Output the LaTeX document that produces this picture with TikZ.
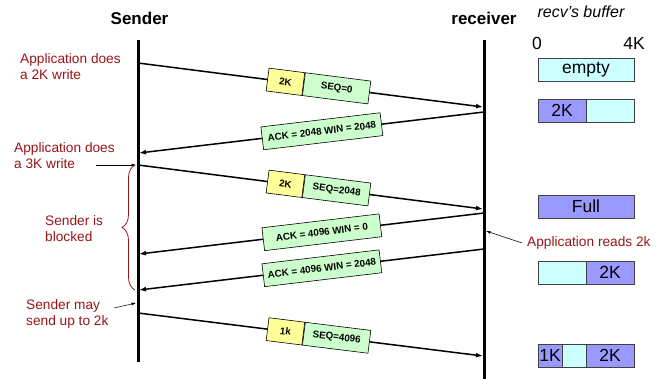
\documentclass[tikz,border=0pt]{standalone}
\usepackage{fontspec}
\setmainfont{Liberation Sans}
\usetikzlibrary{
    arrows.meta,
    decorations.pathreplacing, % for the brace
    positioning
}

\definecolor{lenyellow}{RGB}{255,255,153}
\definecolor{hdrgreen}{RGB}{204,255,204}
\definecolor{freecyan}{RGB}{204,255,255}
\definecolor{usedblue}{RGB}{153,153,255}
\definecolor{notered}{RGB}{153,20,24}

\newcommand{\headfont}{\fontsize{17}{20}\selectfont\bfseries}
\newcommand{\pktfont}{\fontsize{9.8}{12}\selectfont\bfseries}
\newcommand{\notefont}{\fontsize{13.7}{16.7}\selectfont}
\newcommand{\buffont}{\fontsize{17.5}{20}\selectfont}

\begin{document}
\begin{tikzpicture}[x=1pt, y=-1pt,
    life/.style={line width=3pt},
    msg/.style={line width=1.5pt, -{Latex[length=7pt,width=5pt]}},
    pointer/.style={line width=0.5pt, -{Latex[length=4.5pt,width=3pt]}},
    pkt/.style={draw, line width=0.6pt, font=\pktfont, minimum height=23pt, inner sep=1pt},
    note/.style={text=notered, font=\notefont, align=left, inner sep=0pt},
    buf/.style={draw=black!75, line width=0.8pt, font=\buffont, minimum height=23pt,
                inner sep=0pt, outer sep=0pt, anchor=north west}]
    \useasboundingbox (0,0) rectangle (667,379);

    % the two hosts
    \node[font=\headfont, anchor=base] (sender) at (139.5,25) {Sender};
    \node[font=\headfont, anchor=base] (receiver) at (484,25) {receiver};
    \coordinate (s top) at (138,40);
    \coordinate (s bot) at (138,362);
    \coordinate (r top) at (484,40);
    \coordinate (r bot) at (484,379);
    \draw[life] (s top) -- (s bot);
    \draw[life] (r top) -- (r bot);

    % segments and acks
    \coordinate (m1a) at (138,63);  \coordinate (m1b) at (483,107);
    \coordinate (a1a) at (484,112); \coordinate (a1b) at (139,153);
    \coordinate (m2a) at (138,165); \coordinate (m2b) at (483,209);
    \coordinate (a2a) at (484,213); \coordinate (a2b) at (139,254);
    \coordinate (a3a) at (484,249); \coordinate (a3b) at (139,290);
    \coordinate (m3a) at (138,313); \coordinate (m3b) at (483,356);

    \draw[msg] (m1a) -- (m1b)
        node[pkt, fill=lenyellow, minimum width=36pt, sloped, pos=0.48, anchor=east] (len1) {2K}
        node[pkt, fill=hdrgreen, minimum width=66pt, sloped, pos=0.48, anchor=west] (seq1) {SEQ=0};
    \draw[msg] (a1a) -- (a1b)
        node[pkt, fill=hdrgreen, minimum width=120pt, sloped, pos=0.47] (ack1) {ACK = 2048 WIN = 2048};
    \draw[msg] (m2a) -- (m2b)
        node[pkt, fill=lenyellow, minimum width=36pt, sloped, pos=0.48, anchor=east] (len2) {2K}
        node[pkt, fill=hdrgreen, minimum width=66pt, sloped, pos=0.48, anchor=west] (seq2) {SEQ=2048};
    \draw[msg] (a2a) -- (a2b)
        node[pkt, fill=hdrgreen, minimum width=118pt, sloped, pos=0.47] (ack2) {ACK = 4096 WIN = 0};
    \draw[msg] (a3a) -- (a3b)
        node[pkt, fill=hdrgreen, minimum width=118pt, sloped, pos=0.47] (ack3) {ACK = 4096 WIN = 2048};
    \draw[msg] (m3a) -- (m3b)
        node[pkt, fill=lenyellow, minimum width=36pt, sloped, pos=0.48, anchor=east] (len3) {1k}
        node[pkt, fill=hdrgreen, minimum width=66pt, sloped, pos=0.48, anchor=west] (seq3) {SEQ=4096};

    % what the applications do (base = last line)
    \node[note, anchor=base west] (write2k) at (20,80) {Application does\\a 2K write};
    \node[note, anchor=base west] (write3k) at (14,169) {Application does\\a 3K write};
    \node[note, anchor=base west] (blocked) at (45,242) {Sender is\\blocked};
    \node[note, anchor=base west] (maysend) at (26,326) {Sender may\\send up to 2k};
    \node[note, anchor=base west] (reads) at (527,247) {Application reads 2k};

    \coordinate (p3k) at (96,165);   \coordinate (s3k) at (136,165);
    \coordinate (pmay) at (114,308); \coordinate (smay) at (136,303);
    \coordinate (pread) at (522,243); \coordinate (rread) at (486,231);
    \draw[pointer] (p3k) -- (s3k);
    \draw[pointer] (pmay) -- (smay);
    \draw[pointer] (pread) -- (rread);

    \coordinate (blk top) at (135,165);
    \coordinate (blk bot) at (135,290);
    \draw[notered, line width=0.8pt, decorate, decoration={brace, amplitude=13pt}]
        (blk bot) -- (blk top);

    % receive buffer
    \node[font=\itshape\fontsize{16}{19}\selectfont, anchor=base west] (bufname) at (534,18) {recv's buffer};
    \node[font=\buffont, anchor=base] (zero) at (537,50) {0};
    \node[font=\buffont, anchor=base] (four) at (634,50) {4K};

    \node[buf, fill=freecyan, minimum width=96pt] (b1) at (538,58) {empty};

    \node[buf, fill=usedblue, minimum width=48pt] (b2a) at (538,99) {2K};
    \node[buf, fill=freecyan, minimum width=48pt, right=0pt of b2a] (b2b) {};

    \node[buf, fill=usedblue, minimum width=96pt] (b3) at (538,195) {Full};

    \node[buf, fill=freecyan, minimum width=48pt] (b4a) at (538,261) {};
    \node[buf, fill=usedblue, minimum width=48pt, right=0pt of b4a] (b4b) {2K};

    \node[buf, fill=usedblue, minimum width=24pt] (b5a) at (538,344) {1K};
    \node[buf, fill=freecyan, minimum width=24pt, right=0pt of b5a] (b5b) {};
    \node[buf, fill=usedblue, minimum width=48pt, right=0pt of b5b] (b5c) {2K};
\end{tikzpicture}
\end{document}
